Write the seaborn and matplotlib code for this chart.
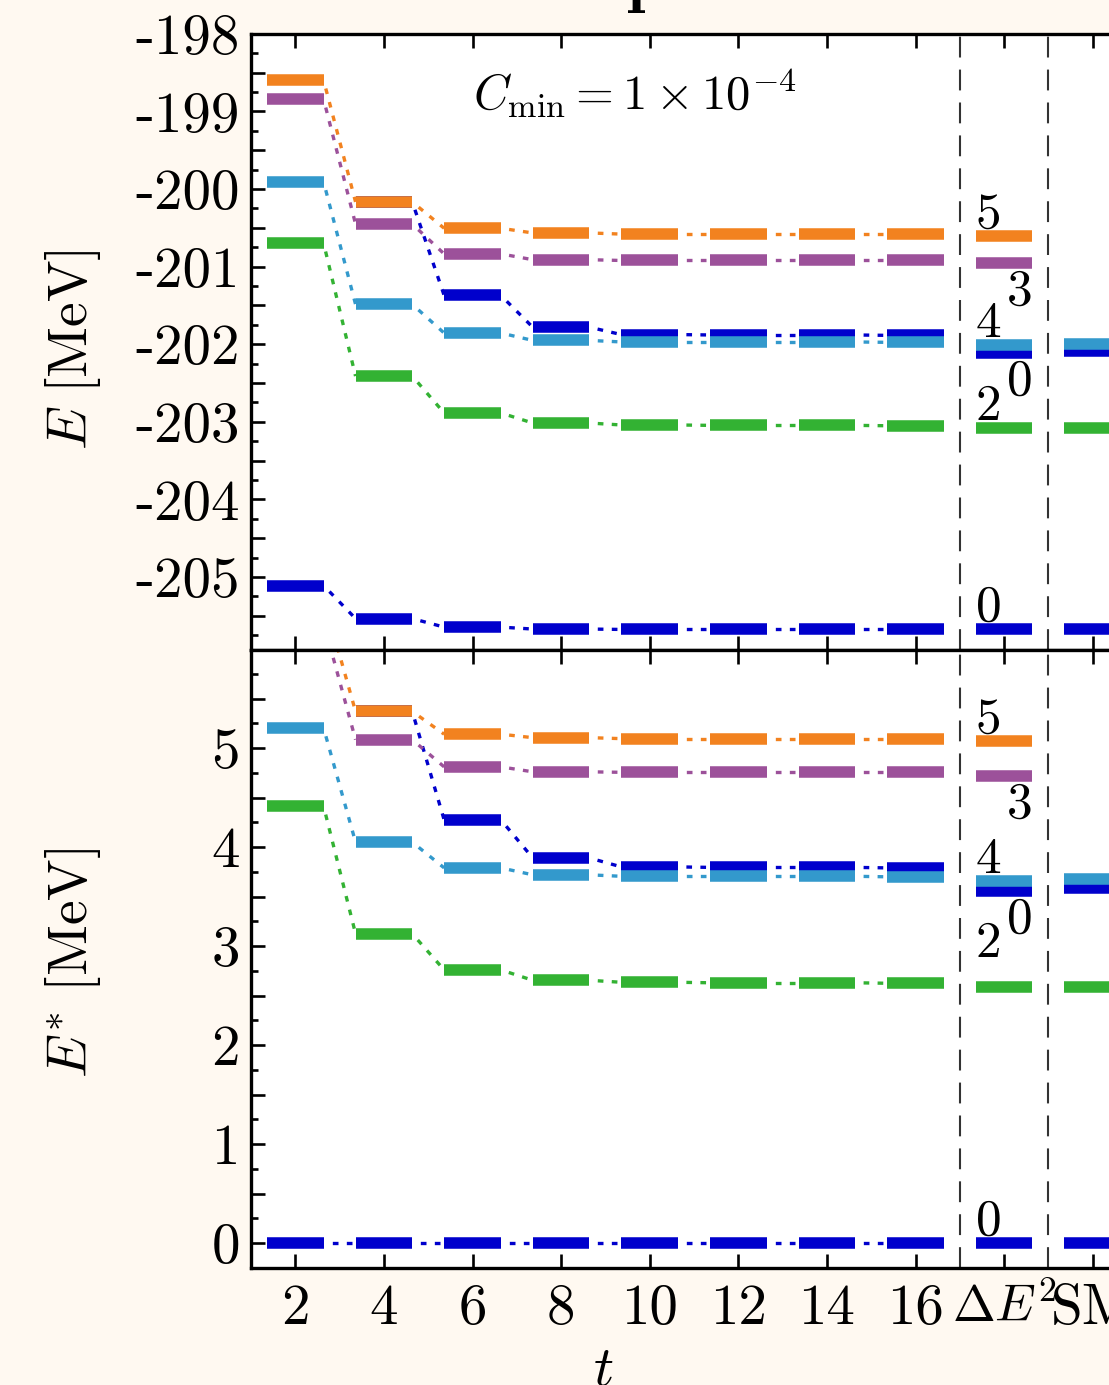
import numpy as np
import pandas as pd
import matplotlib
matplotlib.use("Agg")
import matplotlib.pyplot as plt
from matplotlib.ticker import MultipleLocator, FuncFormatter
import seaborn as sns

nan = np.nan

# x categories: flow steps t, then the variance extrapolation and the shell model
categories = ["2", "4", "6", "8", "10", "12", "14", "16", r"$\Delta E^2$", "SM"]
n_flow = 8  # the first eight categories are connected flow steps

# absolute energies [MeV] of each state per category
E_gs = [-205.11, -205.535, -205.645, -205.67, -205.675, -205.675, -205.675, -205.675, -205.67, -205.675]
E_02 = [nan, -200.165, -201.37, -201.78, -201.875, -201.88, -201.88, -201.885, -202.11, -202.09]
E_2 = [-200.70, -202.41, -202.885, -203.015, -203.04, -203.045, -203.045, -203.05, -203.085, -203.085]
E_4 = [-199.91, -201.485, -201.855, -201.95, -201.97, -201.97, -201.97, -201.975, -202.01, -201.995]
E_3 = [-198.845, -200.45, -200.835, -200.91, -200.92, -200.92, -200.92, -200.92, -200.95, nan]
E_5 = [-198.60, -200.165, -200.505, -200.565, -200.58, -200.58, -200.58, -200.58, -200.60, nan]

# spin labels, colours, drawing order (first drawn at the bottom)
state_names = ["0_2", "0_1", "2", "4", "3", "5"]
state_spin = ["0", "0", "2", "4", "3", "5"]
state_colors = ["#0000CC", "#0000CC", "#33B233", "#3399CC", "#9C519A", "#F2821F"]
state_energy = [E_02, E_gs, E_2, E_4, E_3, E_5]
label_side = ["below", "above", "above", "above", "below", "above"]

HW = 0.32            # half width of a level bar
BAR_LW = 8.3
DIGIT_FS = 37

sns.set_theme(style="ticks")
plt.rcParams["font.family"] = ["cmr10", "DejaVu Serif"]
plt.rcParams["mathtext.fontset"] = "cm"
plt.rcParams["axes.unicode_minus"] = False
plt.rcParams["axes.formatter.use_mathtext"] = False
for key in ("text.color", "axes.labelcolor", "xtick.color", "ytick.color",
            "xtick.labelcolor", "ytick.labelcolor"):
    plt.rcParams[key] = "black"

BG = "#FFF9F1"
W, H = 1109, 1385
fig = plt.figure(figsize=(W / 100, H / 100), dpi=100, facecolor=BG)

left = 251 / W
width = 886 / W
ax_top = fig.add_axes([left, (H - 650) / H, width, (650 - 33.9) / H])
ax_bot = fig.add_axes([left, (H - 1268) / H, width, (1268 - 650) / H])

pos = np.arange(len(categories))


def connector_frame(values):
    rows = []
    for name, vals in zip(state_names, values):
        for i in range(n_flow - 1):
            a, b = vals[i], vals[i + 1]
            if np.isfinite(a) and np.isfinite(b):
                seg = f"{name}-{i}"
                rows.append((name, seg, pos[i] + HW, a))
                rows.append((name, seg, pos[i + 1] - HW, b))
    return pd.DataFrame(rows, columns=["state", "seg", "x", "y"])


def draw_panel(ax, values, label_offsets):
    palette = dict(zip(state_names, state_colors))
    df = connector_frame(values)
    sns.lineplot(data=df, x="x", y="y", hue="state", units="seg", estimator=None,
                 palette=palette, legend=False, ax=ax, lw=2.4,
                 linestyle=(1.7, (1.7, 2.5)), zorder=2)
    for k, (name, vals, col) in enumerate(zip(state_names, values, state_colors)):
        v = np.asarray(vals, dtype=float)
        ok = np.isfinite(v)
        ax.hlines(v[ok], pos[ok] - HW, pos[ok] + HW, colors=col, lw=BAR_LW,
                  zorder=3 + k * 0.1)
    # spin labels next to the extrapolated levels
    i = n_flow
    for name, vals, spin, side in zip(state_names, values, state_spin, label_side):
        y = vals[i]
        off = label_offsets.get(name, None)
        if side == "above":
            ax.annotate(spin, xy=(pos[i] - HW, y), xytext=(0, off if off else 5.8),
                        textcoords="offset points", ha="left", va="baseline",
                        fontsize=DIGIT_FS, zorder=5)
        else:
            ax.annotate(spin, xy=(pos[i] + HW, y), xytext=(0, -(off if off else 4.2)),
                        textcoords="offset points", ha="right", va="top",
                        fontsize=DIGIT_FS, zorder=5)
    for xv in (n_flow - 0.5, n_flow + 0.5):
        ax.axvline(xv, color="#333333", lw=1.5, linestyle=(0, (10, 5.8)), zorder=1)
    ax.set_xlim(-0.5, len(categories) - 0.5)
    ax.set_xticks(pos)
    ax.yaxis.set_major_locator(MultipleLocator(0.5))
    ax.yaxis.set_minor_locator(MultipleLocator(0.25))
    ax.yaxis.set_major_formatter(
        FuncFormatter(lambda v, p: f"{v:.0f}" if abs(v - round(v)) < 1e-6 else ""))
    ax.tick_params(which="both", direction="in", top=True, right=True,
                   width=1.9, color="black", labelcolor="black")
    ax.tick_params(which="major", length=10, labelsize=41)
    ax.tick_params(axis="y", which="major", pad=8)
    ax.tick_params(axis="x", which="major", pad=11.5)
    ax.tick_params(which="minor", length=4.8)
    ax.tick_params(axis="x", which="minor", bottom=False, top=False)
    for sp in ax.spines.values():
        sp.set_linewidth(2.4)
        sp.set_color("black")
    ax.set_facecolor("white")


# top panel: absolute energies
draw_panel(ax_top, state_energy, {})
ax_top.set_ylim(-205.94, -198.0)
ax_top.tick_params(axis="x", labelbottom=False)
ax_top.set_xlabel("")
ax_top.set_ylabel(r"$E\ [\mathrm{MeV}]$", fontsize=40, color="black")
ax_top.yaxis.set_label_coords(-0.167, 0.487)
ax_top.text(0.433, 0.8765, r"$C_{\mathrm{min}} = 1\times10^{-4}$", transform=ax_top.transAxes,
            ha="center", va="baseline", fontsize=35, color="black")

# bottom panel: excitation energies relative to the ground state
gs = np.asarray(E_gs, dtype=float)
excitation = [list(np.asarray(v, dtype=float) - gs) for v in state_energy]
draw_panel(ax_bot, excitation, {"2": 21.6})
ax_bot.set_ylim(-0.25, 5.99)
ax_bot.set_xticklabels(categories)
ax_bot.get_xticklabels()[n_flow].set_fontsize(37)
ax_bot.set_ylabel(r"$E^{*}\ [\mathrm{MeV}]$", fontsize=40, color="black")
ax_bot.yaxis.set_label_coords(-0.167, 0.4935)
ax_bot.set_xlabel(r"$t$", fontsize=40, color="black")
ax_bot.xaxis.set_label_coords(0.397, -0.127)

fig.text(627 / W, 1.0, "p", fontfamily="cmb10", fontsize=48, ha="left", va="baseline",
         color="black")

fig.savefig("out.png", dpi=100, facecolor=BG)
